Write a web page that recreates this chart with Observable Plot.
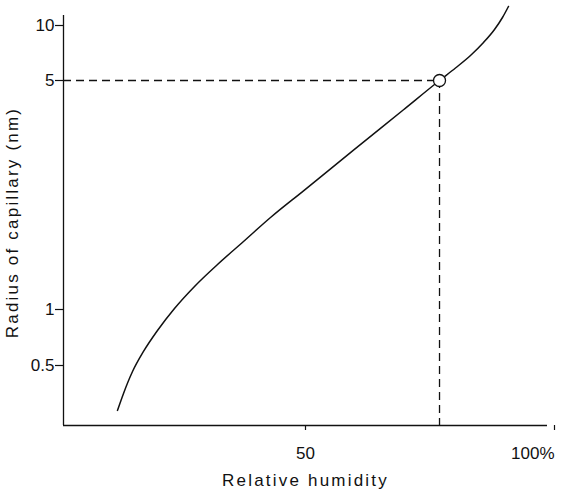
<!DOCTYPE html>
<html>
<head>
<meta charset="utf-8">
<script src="https://cdn.jsdelivr.net/npm/d3@7"></script>
<script src="https://cdn.jsdelivr.net/npm/@observablehq/plot@0.6"></script>
<style>
  html, body { margin: 0; padding: 0; background: #fff; }
  #chart svg { display: block; }
  #chart svg g[aria-label="text"] text { letter-spacing: 2.2px; }
</style>
</head>
<body>
<div id="chart"></div>
<script>
// Relative humidity (%) along the curve
const humidity = [11.16, 12.40, 14.26, 16.53, 19.42, 22.93, 27.07, 31.82, 37.19, 42.77, 49.59, 59.92, 70.25, 77.69, 80.99, 84.09, 86.78, 89.05, 90.70, 91.94];
// Radius of capillary (nm)
const radius   = [0.287, 0.354, 0.464, 0.595, 0.771, 1.007, 1.176, 1.372, 1.613, 1.909, 2.303, 3.064, 4.072, 5.0, 5.853, 6.851, 8.071, 9.508, 11.06, 12.71];

// Marked point (radius 5 nm)
const markedHumidity = [77.69];
const markedRadius = [5];

// Axis ticks and labels
const xTickMid = [50];
const xTickEnd = [100];
const xTickLabels = {50: "50", 100: "100%"};
const yTicks = [0.5, 1, 5, 10];
const yTickLabels = ["0.5", "1", "5", "10"];
const xTitle = ["Relative humidity"];
const yTitle = ["Radius of capillary (nm)"];

// Axis extents
const xDomain = [0, 100];
const yAxisMin = 0.238;

const curve = humidity.map((h, i) => ({h, r: radius[i]}));
const marked = markedHumidity.map((h, i) => ({h, r: markedRadius[i]}));
const ink = "#111";

const chart = Plot.plot({
  width: 565,
  height: 489,
  marginLeft: 63,
  marginRight: 18,
  marginTop: 15,
  marginBottom: 64,
  style: {fontFamily: "'Liberation Sans', Arial, sans-serif", fontSize: "17px", color: ink, background: "#fff"},
  x: {domain: xDomain},
  y: {type: "log", domain: [yAxisMin, 0.5, 1, 5, 10], range: [425, 365, 309, 80, 25]},
  marks: [
    Plot.axisX(xTickMid, {
      tickFormat: d => xTickLabels[d],
      tickSize: 5,
      tickPadding: 16,
      strokeWidth: 1.2,
      label: null
    }),
    Plot.axisX(xTickEnd, {
      tickFormat: d => xTickLabels[d],
      tickSize: 5,
      tickPadding: 16,
      textAnchor: "end",
      dx: 7,
      strokeWidth: 1.2,
      label: null
    }),
    Plot.axisY({
      ticks: yTicks,
      tickFormat: d => yTickLabels[yTicks.indexOf(d)],
      tickSize: 8,
      tickPadding: 1,
      strokeWidth: 1.2,
      label: null
    }),
    Plot.ruleX([xDomain[0]], {stroke: ink, strokeWidth: 1.3}),
    Plot.ruleY([yAxisMin], {stroke: ink, strokeWidth: 1.3}),
    Plot.ruleY(markedRadius, {x1: xDomain[0], x2: markedHumidity[0], stroke: ink, strokeWidth: 1.3, strokeDasharray: "8,5"}),
    Plot.ruleX(markedHumidity, {y1: markedRadius[0], y2: yAxisMin, stroke: ink, strokeWidth: 1.3, strokeDasharray: "8,5"}),
    Plot.line(curve, {x: "h", y: "r", curve: "monotone-x", stroke: ink, strokeWidth: 1.5}),
    Plot.dot(marked, {x: "h", y: "r", r: 6, stroke: ink, strokeWidth: 1.3, fill: "#fff"}),
    Plot.text(xTitle, {frameAnchor: "bottom", lineAnchor: "top", dy: 48, fill: ink}),
    Plot.text(yTitle, {frameAnchor: "left", textAnchor: "middle", rotate: -90, lineAnchor: "top", dx: -58, dy: 2, fill: ink})
  ]
});
document.getElementById("chart").appendChild(chart);
</script>
</body>
</html>
